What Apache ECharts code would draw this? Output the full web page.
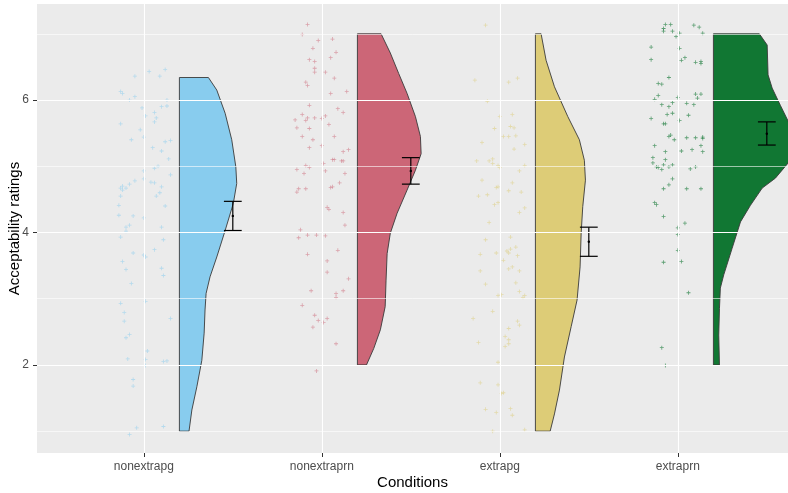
<!DOCTYPE html>
<html>
<head>
<meta charset="utf-8">
<script src="https://cdn.jsdelivr.net/npm/echarts@6/dist/echarts.min.js"></script>
<style>
  html, body { margin: 0; padding: 0; background: #fff; }
  #chart { width: 788px; height: 493px; }
</style>
</head>
<body>
<div id="chart"></div>
<script>
// conditions + colours
const conditions = ["nonextrapg", "nonextraprn", "extrapg", "extraprn"];
const fillColors = ["#88CCEE", "#CC6677", "#DDCC77", "#117733"];
const yTickValues = [2, 4, 6];
const gridMajorY = [2, 4, 6];
const gridMinorY = [1, 3, 5, 7];

// mean +/- error per condition
const means = [4.25, 4.93, 3.86, 5.49];
const errLow = [4.03, 4.73, 3.64, 5.32];
const errHigh = [4.47, 5.13, 4.08, 5.67];

// half violin profiles: [rating, half width], bottom to top
const violinNonextrapg = [[1.00,0.054],[1.32,0.070],[1.67,0.098],[2.07,0.126],[2.48,0.139],[2.83,0.144],[3.08,0.150],[3.33,0.172],[3.63,0.210],[4.03,0.257],[4.44,0.303],[4.74,0.322],[4.99,0.317],[5.40,0.294],[5.80,0.257],[6.15,0.210],[6.34,0.163]];
const violinNonextraprn = [[2.00,0.051],[2.25,0.092],[2.53,0.129],[2.88,0.156],[3.28,0.161],[3.68,0.167],[3.99,0.185],[4.29,0.223],[4.64,0.279],[4.94,0.326],[5.19,0.358],[5.45,0.354],[5.75,0.326],[6.10,0.279],[6.40,0.232],[6.71,0.185],[7.00,0.133]];
const violinExtrapg = [[1.00,0.083],[1.26,0.107],[1.62,0.135],[2.12,0.163],[2.58,0.201],[2.98,0.234],[3.48,0.251],[3.99,0.257],[4.39,0.266],[4.79,0.281],[5.09,0.275],[5.40,0.247],[5.75,0.182],[6.20,0.107],[6.60,0.060],[7.00,0.032]];
const violinExtraprn = [[2.00,0.034],[2.45,0.030],[2.85,0.034],[3.16,0.039],[3.36,0.058],[3.76,0.105],[4.16,0.152],[4.41,0.208],[4.67,0.274],[4.82,0.348],[5.05,0.420],[5.25,0.450],[5.45,0.455],[5.62,0.431],[5.92,0.376],[6.18,0.330],[6.38,0.307],[6.83,0.302],[7.00,0.258]];

// jittered raw ratings: [jitter, rating]
const ptsNonextrapg = [[-0.05,6.36],[0.03,6.43],[0.09,6.36],[0.12,6.46],[-0.13,6.13],[-0.12,6.10],[-0.08,6.00],[-0.05,6.05],[0.13,6.00],[0.10,5.90],[0.13,5.91],[-0.01,5.88],[0.01,5.76],[0.06,5.81],[0.07,5.73],[0.06,5.67],[-0.13,5.64],[-0.02,5.55],[0.00,5.44],[-0.07,5.40],[0.05,5.28],[0.10,5.23],[0.12,5.37],[0.15,5.39],[0.14,5.11],[0.00,4.93],[0.06,4.97],[0.08,5.00],[0.15,4.87],[-0.05,4.78],[-0.08,4.73],[-0.10,4.67],[-0.12,4.70],[-0.13,4.67],[-0.12,4.64],[0.04,4.76],[0.06,4.75],[0.00,4.81],[0.10,4.69],[0.09,4.60],[0.07,4.55],[-0.13,4.55],[-0.14,4.41],[-0.14,4.26],[-0.06,4.25],[0.00,4.22],[0.12,4.40],[-0.08,4.11],[-0.10,4.08],[-0.10,4.02],[-0.13,3.93],[0.10,4.08],[0.11,3.89],[0.06,3.74],[-0.06,3.69],[0.00,3.66],[0.01,3.63],[-0.12,3.56],[-0.10,3.44],[0.10,3.46],[0.11,3.35],[-0.07,3.23],[-0.13,2.93],[0.01,2.96],[-0.11,2.79],[-0.11,2.66],[0.15,2.70],[-0.08,2.46],[-0.10,2.41],[0.02,2.21],[-0.09,2.09],[0.01,2.08],[0.01,1.99],[0.11,2.05],[0.13,2.06],[-0.06,1.78],[-0.06,1.68],[-0.04,1.05],[-0.08,0.95],[0.11,1.07]];
const ptsNonextraprn = [[-0.08,7.14],[-0.11,6.99],[-0.02,6.90],[0.06,6.92],[-0.05,6.78],[0.08,6.72],[0.05,6.64],[-0.07,6.61],[-0.04,6.58],[-0.04,6.48],[-0.04,6.42],[0.02,6.42],[0.07,6.33],[-0.09,6.27],[-0.08,6.22],[0.05,6.10],[0.14,6.13],[-0.07,5.92],[0.09,5.87],[0.12,5.81],[-0.11,5.78],[-0.15,5.70],[-0.08,5.73],[-0.09,5.69],[-0.04,5.73],[0.00,5.72],[0.02,5.76],[0.04,5.63],[-0.14,5.58],[-0.07,5.57],[-0.11,5.45],[-0.05,5.40],[0.07,5.45],[-0.07,5.28],[0.00,5.31],[0.12,5.22],[0.15,5.25],[0.06,5.10],[0.07,5.10],[0.11,5.08],[0.12,5.08],[-0.09,5.01],[-0.14,4.95],[-0.07,4.98],[-0.10,4.89],[0.02,4.93],[0.01,5.04],[0.13,4.89],[0.10,4.75],[0.06,4.69],[0.05,4.68],[-0.13,4.66],[-0.09,4.66],[-0.14,4.61],[0.03,4.38],[0.04,4.35],[0.12,4.30],[0.13,4.11],[-0.12,4.04],[-0.13,3.92],[-0.08,3.96],[-0.03,3.96],[0.02,3.95],[0.09,3.73],[-0.08,3.67],[0.03,3.57],[0.03,3.40],[0.15,3.30],[-0.06,3.12],[0.12,3.12],[0.08,3.08],[0.08,3.02],[-0.11,2.90],[-0.04,2.75],[-0.02,2.67],[0.03,2.70],[0.01,2.64],[-0.05,2.57],[0.08,2.32],[-0.03,1.91]];
const ptsExtrapg = [[-0.08,7.13],[-0.14,6.30],[0.05,6.27],[0.10,6.33],[-0.07,5.98],[0.00,5.75],[0.07,5.78],[-0.03,5.57],[0.06,5.60],[0.08,5.58],[0.02,5.45],[0.05,5.45],[0.09,5.46],[-0.10,5.36],[0.08,5.26],[0.14,5.33],[-0.13,5.08],[-0.06,5.08],[-0.04,5.11],[-0.04,5.04],[-0.01,5.01],[0.00,4.98],[0.14,5.01],[0.11,4.93],[-0.10,4.79],[0.07,4.75],[-0.02,4.68],[-0.01,4.69],[-0.07,4.57],[-0.12,4.55],[0.05,4.63],[0.12,4.61],[-0.03,4.42],[-0.01,4.45],[0.14,4.37],[0.11,4.30],[-0.06,4.15],[0.06,3.93],[-0.08,3.89],[0.04,3.72],[0.06,3.75],[0.05,3.69],[0.09,3.78],[-0.02,3.69],[-0.11,3.67],[0.10,3.65],[0.02,3.58],[0.05,3.45],[0.07,3.48],[-0.11,3.42],[0.11,3.42],[-0.08,3.22],[0.09,3.24],[-0.01,3.05],[0.01,3.06],[0.11,3.11],[0.13,3.02],[0.14,3.05],[-0.04,2.81],[-0.15,2.70],[0.10,2.66],[0.11,2.60],[0.05,2.55],[0.03,2.43],[0.05,2.38],[0.05,2.32],[0.03,2.28],[-0.12,2.34],[-0.01,2.04],[-0.11,1.73],[-0.01,1.70],[0.02,1.58],[0.01,1.57],[-0.08,1.33],[-0.02,1.28],[0.06,1.34],[0.07,1.24],[-0.04,1.00],[0.14,1.02]];
const ptsExtraprn = [[-0.07,7.14],[-0.04,7.14],[-0.08,7.08],[-0.08,7.04],[-0.03,7.04],[-0.01,6.96],[0.01,7.01],[0.09,7.13],[0.12,7.10],[0.14,7.01],[-0.15,6.80],[0.01,6.78],[-0.15,6.61],[0.02,6.60],[0.04,6.64],[0.10,6.57],[0.13,6.58],[0.13,6.55],[-0.05,6.34],[-0.11,6.25],[-0.09,6.24],[-0.11,6.07],[-0.13,6.01],[0.00,6.04],[0.10,6.09],[0.13,6.09],[0.11,6.03],[-0.09,5.93],[-0.05,5.90],[-0.03,5.96],[0.05,5.95],[0.09,5.93],[-0.06,5.78],[-0.03,5.80],[0.06,5.77],[-0.15,5.72],[0.01,5.69],[-0.08,5.64],[-0.07,5.64],[-0.05,5.45],[-0.04,5.47],[-0.02,5.40],[0.05,5.43],[0.10,5.43],[0.14,5.44],[0.14,5.42],[-0.13,5.31],[-0.07,5.22],[0.02,5.23],[0.08,5.25],[0.13,5.31],[0.14,5.22],[-0.14,5.13],[-0.14,5.05],[-0.07,5.10],[-0.08,5.02],[-0.12,4.99],[-0.11,4.98],[-0.09,4.95],[-0.05,4.99],[-0.03,5.02],[0.07,4.96],[0.10,4.99],[-0.03,4.81],[-0.05,4.72],[-0.08,4.66],[0.05,4.66],[0.13,4.66],[-0.13,4.45],[-0.12,4.42],[-0.08,4.24],[0.04,4.14],[0.00,4.07],[0.00,3.97],[0.00,3.73],[-0.08,3.55],[0.02,3.56],[0.06,3.09],[-0.09,2.26],[-0.07,1.99]];

const violins = [violinNonextrapg, violinNonextraprn, violinExtrapg, violinExtraprn];
const points = [ptsNonextrapg, ptsNonextraprn, ptsExtrapg, ptsExtraprn];

const VIOLIN_NUDGE = 0.2;
const ERR_NUDGE = 0.5;
const CAP = 0.05;
const FONT = "'Liberation Sans', Arial, sans-serif";

const chart = echarts.init(document.getElementById("chart"), null, { renderer: "canvas" });

const plusSymbol = "path://M0,2H5V3H0Z M2,0H3V5H2Z";

const gridLines = [];
gridMajorY.forEach(v => gridLines.push({ yAxis: v, lineStyle: { color: "#fff", width: 1.1, type: "solid" } }));
gridMinorY.forEach(v => gridLines.push({ yAxis: v, lineStyle: { color: "#fff", width: 0.6, type: "solid" } }));
conditions.forEach((c, i) => gridLines.push({ xAxis: i + 1, lineStyle: { color: "#fff", width: 1.1, type: "solid" } }));

const scatterSeries = points.map((pts, i) => ({
  type: "scatter",
  name: conditions[i],
  z: 3,
  symbol: plusSymbol,
  symbolSize: 4,
  itemStyle: { color: fillColors[i], opacity: i === 3 ? 0.65 : 0.55 },
  data: pts.map(p => [i + 1 + p[0], p[1]]),
}));

const option = {
  animation: false,
  grid: {
    left: 37, right: 0, top: 4, bottom: 40,
    containLabel: false,
    outerBoundsMode: "none",
    show: true, backgroundColor: "#EBEBEB", borderWidth: 0,
  },
  xAxis: {
    type: "value",
    min: 0.4,
    max: 4.619,
    name: "Conditions",
    nameLocation: "middle",
    nameGap: 22,
    nameMoveOverlap: false,
    nameTextStyle: { color: "#000", fontSize: 15, fontFamily: FONT },
    axisLine: { show: false },
    splitLine: { show: false },
    axisTick: { show: true, length: 4, lineStyle: { color: "#333" }, customValues: [1, 2, 3, 4] },
    axisLabel: {
      customValues: [1, 2, 3, 4],
      formatter: v => conditions[Math.round(v) - 1] || "",
      color: "#4D4D4D", fontSize: 12, fontFamily: FONT, margin: 8,
    },
  },
  yAxis: {
    type: "value",
    min: 0.67,
    max: 7.45,
    name: "Acceptability ratings",
    nameLocation: "middle",
    nameGap: 15,
    nameMoveOverlap: false,
    nameTextStyle: { color: "#000", fontSize: 15, fontFamily: FONT },
    axisLine: { show: false },
    splitLine: { show: false },
    axisTick: { show: true, length: 4, lineStyle: { color: "#333" }, customValues: yTickValues },
    axisLabel: {
      customValues: yTickValues,
      color: "#4D4D4D", fontSize: 12, fontFamily: FONT, margin: 8,
    },
  },
  series: [
    {
      // panel grid lines
      type: "scatter",
      z: 0,
      data: [],
      silent: true,
      markLine: {
        silent: true,
        symbol: ["none", "none"],
        label: { show: false },
        emphasis: { disabled: true },
        data: gridLines,
      },
    },
    ...scatterSeries,
    {
      type: "custom",
      name: "violins",
      z: 2,
      clip: true,
      data: conditions.map((c, i) => [i + 1]),
      renderItem: (params, api) => {
        const i = params.dataIndex;
        const prof = violins[i];
        const x0 = i + 1 + VIOLIN_NUDGE;
        const pts = [api.coord([x0, prof[0][0]])];
        prof.forEach(p => pts.push(api.coord([x0 + p[1], p[0]])));
        pts.push(api.coord([x0, prof[prof.length - 1][0]]));
        return {
          type: "polygon",
          shape: { points: pts },
          style: { fill: fillColors[i], stroke: "#3a3a3a", lineWidth: 0.9 },
        };
      },
    },
    {
      type: "custom",
      name: "errors",
      z: 4,
      data: conditions.map((c, i) => [i + 1 + ERR_NUDGE, means[i]]),
      renderItem: (params, api) => {
        const i = params.dataIndex;
        const x = i + 1 + ERR_NUDGE;
        const top = api.coord([x, errHigh[i]]);
        const bot = api.coord([x, errLow[i]]);
        const l = api.coord([x - CAP, errHigh[i]])[0];
        const r = api.coord([x + CAP, errHigh[i]])[0];
        const m = api.coord([x, means[i]]);
        const st = { stroke: "#000", lineWidth: 1.2 };
        return {
          type: "group",
          children: [
            { type: "line", shape: { x1: top[0], y1: top[1], x2: bot[0], y2: bot[1] }, style: st },
            { type: "line", shape: { x1: l, y1: top[1], x2: r, y2: top[1] }, style: st },
            { type: "line", shape: { x1: l, y1: bot[1], x2: r, y2: bot[1] }, style: st },
            { type: "circle", shape: { cx: m[0], cy: m[1], r: 1.2 }, style: { fill: "#000" } },
          ],
        };
      },
    },
  ],
};

chart.setOption(option);
</script>
</body>
</html>
